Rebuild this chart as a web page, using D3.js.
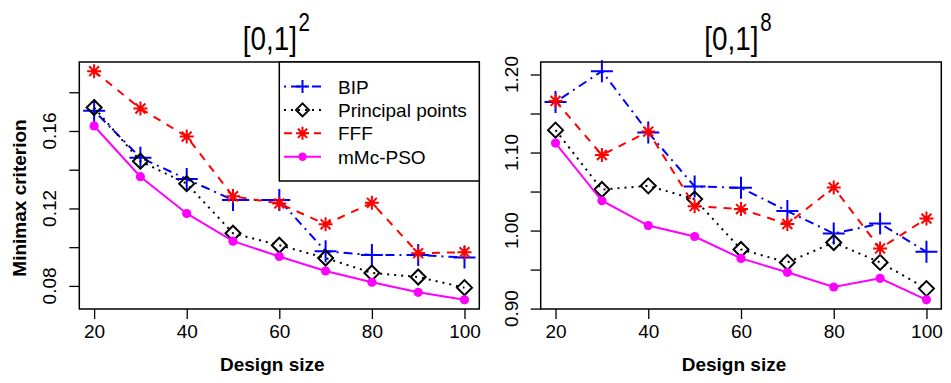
<!DOCTYPE html>
<html><head><meta charset="utf-8">
<script src="https://cdn.jsdelivr.net/npm/d3@7"></script>
<style>
html,body{margin:0;padding:0;background:#fff;}
svg{display:block;font-family:"Liberation Sans",Arial,sans-serif;}
</style></head>
<body>
<svg id="chart" width="951" height="383"></svg>
<script>
const designSize = [20, 30, 40, 50, 60, 70, 80, 90, 100];
const seriesNames = ["BIP", "Principal points", "FFF", "mMc-PSO"];

// [0,1]^2 panel
const bip2   = [0.1704, 0.1462, 0.1352, 0.1243, 0.1243, 0.0979, 0.0959, 0.0959, 0.0947];
const pp2    = [0.1721, 0.1444, 0.1328, 0.1072, 0.1010, 0.0944, 0.0867, 0.0846, 0.0791];
const fff2   = [0.1909, 0.1716, 0.1571, 0.1263, 0.1226, 0.1118, 0.1229, 0.0969, 0.0974];
const pso2   = [0.1626, 0.1364, 0.1174, 0.1031, 0.0952, 0.0877, 0.0819, 0.0767, 0.0728];

// [0,1]^8 panel
const bip8   = [1.1648, 1.2043, 1.1257, 1.0565, 1.0548, 1.0250, 0.9962, 1.0089, 0.9727];
const pp8    = [1.1287, 1.0526, 1.0573, 1.0403, 0.9758, 0.9592, 0.9847, 0.9592, 0.9256];
const fff8   = [1.1661, 1.0968, 1.1269, 1.0313, 1.0275, 1.0084, 1.0552, 0.9771, 1.0153];
const pso8   = [1.1121, 1.0382, 1.0064, 0.9924, 0.9643, 0.9465, 0.9277, 0.9388, 0.9112];

const xTicks = [20, 40, 60, 80, 100];
const yTicks2 = [0.08, 0.10, 0.12, 0.14, 0.16, 0.18];
const yLabels2 = [0.08, 0.12, 0.16];
const yTicks8 = [0.90, 0.95, 1.00, 1.05, 1.10, 1.15, 1.20];
const yLabels8 = [0.90, 1.00, 1.10, 1.20];

const styles = [
  {color:"#0000FF", dash:"2,5,9,5", marker:"plus"},
  {color:"#000000", dash:"2,5", marker:"diamond"},
  {color:"#FF0000", dash:"8,7", marker:"star"},
  {color:"#FF00FF", dash:null, marker:"dot"}
];

const svg = d3.select("#chart");
const FONT = "19px";

function markerPath(type, s) {
  if (type === "plus") return `M${-s},0H${s}M0,${-s}V${s}`;
  if (type === "diamond") return `M0,${-s}L${s},0L0,${s}L${-s},0Z`;
  if (type === "star") { const d = s*0.7071;
    return `M${-s},0H${s}M0,${-s}V${s}M${-d},${-d}L${d},${d}M${-d},${d}L${d},${-d}`; }
  return null;
}
function drawMarker(g, type, color, x, y, big) {
  if (type === "dot") {
    g.append("circle").attr("cx", x).attr("cy", y).attr("r", big ? 4.6 : 4.2).attr("fill", color);
  } else {
    const s = type === "plus" ? (big ? 11 : 6.5) : (type === "diamond" ? (big ? 7.5 : 6.5) : (big ? 7 : 6.5));
    g.append("path").attr("d", markerPath(type, s)).attr("transform", `translate(${x},${y})`)
      .attr("fill", "none").attr("stroke", color).attr("stroke-width", 2);
  }
}

function panel(opts) {
  const {left, right, top, bottom, data, yTicks, yLabels, fmt, title, sup, ylab} = opts;
  const all = data.flat();
  const [mn, mx] = d3.extent(all);
  const ext = (mx - mn) * 0.04;
  const xe = (d3.max(designSize) - d3.min(designSize)) * 0.04;
  const x = d3.scaleLinear().domain([d3.min(designSize) - xe, d3.max(designSize) + xe]).range([left, right]);
  const y = d3.scaleLinear().domain([mn - ext, mx + ext]).range([bottom, top]);
  const g = svg.append("g");

  data.forEach((vals, i) => {
    const st = styles[i];
    const line = d3.line().x((d, j) => x(designSize[j])).y(d => y(d));
    g.append("path").datum(vals).attr("d", line).attr("fill", "none")
      .attr("stroke", st.color).attr("stroke-width", 2)
      .attr("stroke-dasharray", st.dash);
    vals.forEach((v, j) => drawMarker(g, st.marker, st.color, x(designSize[j]), y(v), true));
  });

  g.append("rect").attr("x", left).attr("y", top).attr("width", right - left).attr("height", bottom - top)
    .attr("fill", "none").attr("stroke", "#000").attr("stroke-width", 1.5);

  const xa = g.append("g").attr("transform", `translate(0,${bottom})`)
    .call(d3.axisBottom(x).tickValues(xTicks).tickSize(10).tickSizeOuter(0).tickPadding(6).tickFormat(d3.format("d")));
  xa.select(".domain").remove();
  xa.selectAll(".tick line").attr("stroke-width", 1.3);
  xa.selectAll("text").attr("font-size", FONT).attr("font-family", "Liberation Sans, Arial").attr("fill", "#000");

  const ya = g.append("g").attr("transform", `translate(${left},0)`)
    .call(d3.axisLeft(y).tickValues(yTicks).tickSize(10).tickSizeOuter(0).tickFormat(""));
  ya.select(".domain").remove();
  ya.selectAll(".tick line").attr("stroke-width", 1.3);
  yLabels.forEach(v => {
    g.append("text").attr("transform", `translate(${left - 23},${y(v)}) rotate(-90)`)
      .attr("text-anchor", "middle").attr("font-size", FONT).attr("fill", "#000").text(fmt(v));
  });

  g.append("text").attr("x", (left + right) / 2 - 7).attr("y", 371).attr("text-anchor", "middle")
    .attr("font-size", FONT).attr("font-weight", "bold").text("Design size");
  if (ylab) {
    g.append("text").attr("transform", `translate(26,198) rotate(-90)`).attr("text-anchor", "middle")
      .attr("font-size", FONT).attr("font-weight", "bold").text(ylab);
  }

  const cx = (left + right) / 2;
  const tg = g.append("g").attr("transform", `translate(${cx - 3},50) scale(0.82,1)`);
  const t = tg.append("text").attr("text-anchor", "middle").attr("font-size", "34px");
  t.append("tspan").text(title);
  t.append("tspan").attr("font-size", "25px").attr("dy", -19).attr("dx", 2).text(sup);

  return {g, x, y};
}

panel({left:79.3, right:479.3, top:62, bottom:309,
  data:[bip2, pp2, fff2, pso2], yTicks:yTicks2, yLabels:yLabels2,
  fmt:d3.format(".2f"), title:"[0,1]", sup:"2", ylab:"Minimax criterion"});
panel({left:540.7, right:941.3, top:62, bottom:309,
  data:[bip8, pp8, fff8, pso8], yTicks:yTicks8, yLabels:yLabels8,
  fmt:d3.format(".2f"), title:"[0,1]", sup:"8", ylab:null});

const lg = svg.append("g");
lg.append("rect").attr("x", 279.3).attr("y", 62).attr("width", 200).attr("height", 119)
  .attr("fill", "#fff").attr("stroke", "#000").attr("stroke-width", 1.5);
seriesNames.forEach((name, i) => {
  const yy = 86.5 + i * 23.4;
  const st = styles[i];
  lg.append("line").attr("x1", 284).attr("x2", 321).attr("y1", yy).attr("y2", yy)
    .attr("stroke", st.color).attr("stroke-width", 2).attr("stroke-dasharray", st.dash);
  drawMarker(lg, st.marker, st.color, 302.5, yy, false);
  lg.append("text").attr("x", 338).attr("y", yy + 7).attr("font-size", FONT).attr("fill", "#000").text(name);
});
</script>
</body></html>
